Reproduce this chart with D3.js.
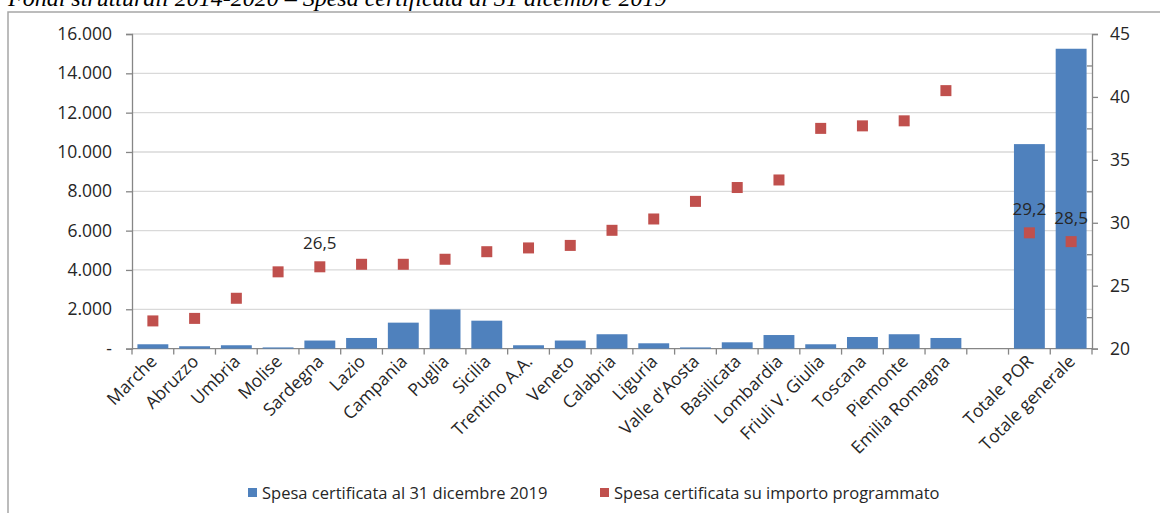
<!DOCTYPE html>
<html lang="it">
<head>
  <meta charset="UTF-8">
  <title>Spesa certificata al 31 dicembre 2019</title>
  <script src="https://d3js.org/d3.v7.min.js"></script>
  <style>
    body { margin: 0; background: #fff; }
    text { font-family: "Open Sans", sans-serif; fill: #262626; }
    .title { font-family: "Liberation Serif", serif; font-style: italic; font-size: 24px; fill: #000; }
    .tick text { font-size: 17.5px; }
  </style>
</head>
<body>
  <svg width="1160" height="513"></svg>

  <script>
    const categories = ["Marche", "Abruzzo", "Umbria", "Molise", "Sardegna", "Lazio", "Campania",
      "Puglia", "Sicilia", "Trentino A.A.", "Veneto", "Calabria", "Liguria", "Valle d'Aosta",
      "Basilicata", "Lombardia", "Friuli V. Giulia", "Toscana", "Piemonte", "Emilia Romagna",
      "", "Totale POR", "Totale generale"];
    const spesa = [220, 120, 170, 60, 410, 540, 1320, 1990, 1420, 170, 410, 730, 270, 60,
      320, 690, 220, 590, 730, 540, null, 10400, 15250];
    const quota = [22.2, 22.4, 24.0, 26.1, 26.5, 26.7, 26.7, 27.1, 27.7, 28.0, 28.2, 29.4, 30.3, 31.7,
      32.8, 33.4, 37.5, 37.7, 38.1, 40.5, null, 29.2, 28.5];
    const labelled = ["Sardegna", "Totale POR", "Totale generale"];
    const leftTicks = [0, 2000, 4000, 6000, 8000, 10000, 12000, 14000, 16000];
    const rightTicks = [20, 25, 30, 35, 40, 45];

    const blue = "#4f81bd", red = "#c0504d", axisCol = "#868686";
    const svg = d3.select("svg");

    // cornice + titolo
    svg.append("rect").attr("x", 8).attr("y", 12).attr("width", 1160).attr("height", 520)
      .attr("fill", "none").attr("stroke", "#a6a6a6").attr("stroke-width", 1.5);
    svg.append("text").attr("class", "title").attr("x", 8).attr("y", 6)
      .text("Fondi strutturali 2014-2020 – Spesa certificata al 31 dicembre 2019");

    const mLeft = 132, mRight = 1092, mTop = 34, mBottom = 348.6;

    const x = d3.scaleBand().domain(categories.map((c, i) => i)).range([mLeft, mRight])
      .paddingInner(0.26).paddingOuter(0.13);
    const y = d3.scaleLinear().domain([0, 16000]).range([mBottom, mTop]);
    const y2 = d3.scaleLinear().domain([20, 45]).range([mBottom, mTop]);

    // griglia
    svg.append("g").selectAll("line").data(leftTicks.slice(1)).enter().append("line")
      .attr("x1", mLeft).attr("x2", mRight).attr("y1", d => y(d)).attr("y2", d => y(d))
      .attr("stroke", "#d9d9d9").attr("stroke-width", 1.3);

    const fmt = d => d === 0 ? "-" : d3.format(",")(d).replace(/,/g, ".");
    svg.append("g").attr("transform", `translate(${mLeft},0)`)
      .call(d3.axisLeft(y).tickValues(leftTicks).tickSize(6).tickPadding(14).tickFormat(fmt));
    svg.append("g").attr("transform", `translate(${mRight},0)`)
      .call(d3.axisRight(y2).tickValues(rightTicks).tickSize(6).tickPadding(12));
    svg.append("g").attr("transform", `translate(${mRight},0)`)
      .call(d3.axisLeft(y2).tickValues([22.5, 27.5, 32.5, 37.5, 42.5]).tickSize(5).tickFormat(""))
      .select(".domain").remove();

    // asse x con tacche ai confini
    const step = x.step();
    const gx = svg.append("g").attr("transform", `translate(0,${mBottom})`);
    gx.append("line").attr("x1", mLeft).attr("x2", mRight).attr("stroke", axisCol).attr("stroke-width", 1.3);
    gx.selectAll(".tk").data(d3.range(categories.length + 1)).enter().append("line")
      .attr("x1", i => mLeft + i * step).attr("x2", i => mLeft + i * step)
      .attr("y1", 0).attr("y2", 6).attr("stroke", axisCol).attr("stroke-width", 1.3);
    gx.selectAll(".lbl").data(categories).enter().append("text")
      .attr("transform", (d, i) => `translate(${x(i) + x.bandwidth() / 2 + 5},${14}) rotate(-45)`)
      .attr("text-anchor", "end").attr("font-size", 17.5).text(d => d);

    svg.selectAll(".domain, .tick line").attr("stroke", axisCol).attr("stroke-width", 1.3);

    // barre
    const bars = spesa.map((v, i) => ({ v, i })).filter(d => d.v != null);
    svg.append("g").selectAll("rect").data(bars).enter().append("rect")
      .attr("x", d => x(d.i))
      .attr("y", d => y(d.v)).attr("width", x.bandwidth()).attr("height", d => mBottom - y(d.v))
      .attr("fill", blue);

    // punti
    const pts = quota.map((v, i) => ({ v, i, c: categories[i] })).filter(d => d.v != null);
    svg.append("g").selectAll("rect").data(pts).enter().append("rect")
      .attr("x", d => x(d.i) + x.bandwidth() / 2 - 5.5).attr("y", d => y2(d.v) - 5.5)
      .attr("width", 11).attr("height", 11).attr("fill", red);
    svg.append("g").selectAll("text").data(pts.filter(d => labelled.includes(d.c))).enter().append("text")
      .attr("x", d => x(d.i) + x.bandwidth() / 2).attr("y", d => y2(d.v) - 18)
      .attr("text-anchor", "middle").attr("font-size", 17)
      .text(d => d3.format(".1f")(d.v).replace(".", ","));

    // legenda
    const leg = [{ t: "Spesa certificata al 31 dicembre 2019", c: blue, x: 248 },
                 { t: "Spesa certificata su importo programmato", c: red, x: 600 }];
    const lg = svg.append("g").selectAll("g").data(leg).enter().append("g");
    lg.append("rect").attr("x", d => d.x).attr("y", 488).attr("width", 9).attr("height", 9).attr("fill", d => d.c);
    lg.append("text").attr("x", d => d.x + 14).attr("y", 498.5).attr("font-size", 16.5).text(d => d.t);
  </script>
</body>
</html>
